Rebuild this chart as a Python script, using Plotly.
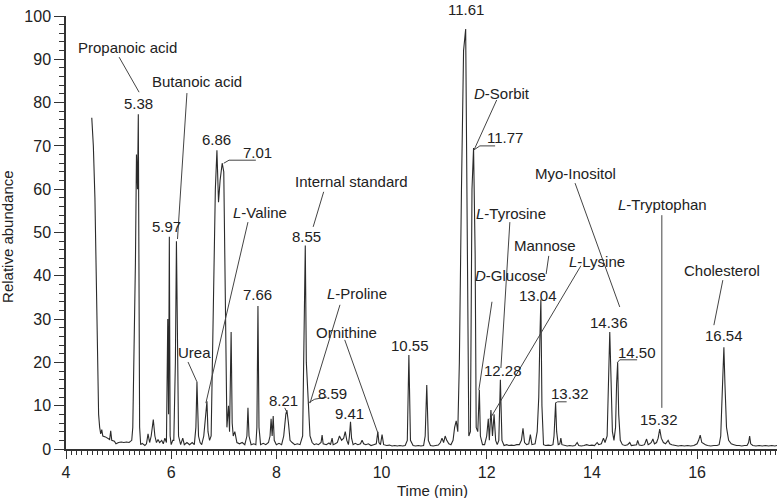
import plotly.graph_objects as go

# ---- chromatogram trace (time in min, relative abundance in %) ----
time_min = [
    4.49, 4.52, 4.55, 4.58, 4.60, 4.62, 4.64, 4.66, 4.68, 4.70, 4.75, 4.80, 4.83, 4.85, 4.87, 4.92, 4.95,
    5.00, 5.05, 5.10, 5.15, 5.20, 5.25, 5.27, 5.30, 5.32, 5.34, 5.36, 5.375, 5.39, 5.40, 5.42, 5.45, 5.50,
    5.53, 5.56, 5.59, 5.62, 5.66, 5.69, 5.72, 5.75, 5.78, 5.82, 5.85, 5.88, 5.91, 5.935, 5.95, 5.965, 5.98,
    6.00, 6.03, 6.05, 6.08, 6.10, 6.12, 6.14, 6.18, 6.22, 6.25, 6.30, 6.35, 6.40, 6.44, 6.47, 6.49, 6.50,
    6.52, 6.55, 6.58, 6.62, 6.65, 6.68, 6.70, 6.73, 6.76, 6.80, 6.84, 6.87, 6.90, 6.93, 6.97, 7.00, 7.03,
    7.06, 7.09, 7.11, 7.14, 7.16, 7.18, 7.21, 7.25, 7.30, 7.35, 7.40, 7.44, 7.46, 7.48, 7.52, 7.57, 7.61,
    7.63, 7.65, 7.67, 7.70, 7.75, 7.80, 7.85, 7.88, 7.90, 7.92, 7.94, 7.96, 8.00, 8.05, 8.10, 8.14, 8.18,
    8.20, 8.23, 8.26, 8.30, 8.35, 8.40, 8.45, 8.50, 8.53, 8.55, 8.57, 8.60, 8.62, 8.64, 8.68, 8.72, 8.76,
    8.80, 8.85, 8.87, 8.89, 8.95, 9.00, 9.03, 9.06, 9.08, 9.12, 9.16, 9.20, 9.24, 9.28, 9.31, 9.34, 9.37,
    9.39, 9.41, 9.43, 9.46, 9.50, 9.55, 9.60, 9.63, 9.66, 9.70, 9.75, 9.80, 9.85, 9.90, 9.93, 9.95, 9.98,
    10.01, 10.04, 10.10, 10.15, 10.20, 10.25, 10.30, 10.35, 10.40, 10.45, 10.49, 10.52, 10.55, 10.60,
    10.65, 10.70, 10.75, 10.80, 10.83, 10.86, 10.89, 10.93, 10.98, 11.03, 11.08, 11.12, 11.15, 11.18,
    11.21, 11.24, 11.28, 11.32, 11.36, 11.39, 11.42, 11.45, 11.48, 11.52, 11.56, 11.60, 11.63, 11.66,
    11.69, 11.72, 11.75, 11.78, 11.80, 11.83, 11.86, 11.88, 11.92, 11.96, 12.00, 12.03, 12.05, 12.08,
    12.11, 12.14, 12.17, 12.20, 12.23, 12.26, 12.29, 12.33, 12.38, 12.42, 12.47, 12.52, 12.57, 12.62,
    12.66, 12.69, 12.72, 12.76, 12.80, 12.83, 12.86, 12.92, 12.96, 12.99, 13.01, 13.03, 13.05, 13.08,
    13.12, 13.17, 13.22, 13.26, 13.28, 13.31, 13.33, 13.36, 13.39, 13.41, 13.43, 13.48, 13.53, 13.58,
    13.63, 13.68, 13.72, 13.75, 13.80, 13.85, 13.90, 13.95, 14.00, 14.05, 14.10, 14.13, 14.18, 14.22,
    14.25, 14.29, 14.32, 14.34, 14.36, 14.39, 14.42, 14.45, 14.47, 14.49, 14.51, 14.54, 14.58, 14.63,
    14.68, 14.72, 14.75, 14.80, 14.85, 14.87, 14.90, 14.95, 15.00, 15.04, 15.07, 15.10, 15.13, 15.16,
    15.19, 15.23, 15.26, 15.29, 15.32, 15.36, 15.40, 15.45, 15.48, 15.52, 15.58, 15.64, 15.70, 15.76,
    15.82, 15.88, 15.94, 16.00, 16.03, 16.06, 16.09, 16.12, 16.16, 16.20, 16.26, 16.32, 16.38, 16.42,
    16.45, 16.47, 16.49, 16.51, 16.53, 16.56, 16.60, 16.65, 16.70, 16.75, 16.80, 16.85, 16.90, 16.95,
    16.98, 17.00, 17.02, 17.06, 17.12, 17.18, 17.24, 17.30, 17.36, 17.42, 17.48, 17.52,
]
abundance = [
    76.5, 70, 58, 40, 20, 8, 5, 3.5, 4.5, 3, 2.8, 2.5, 2.2, 4.2, 2, 1.8, 1.2,
    1.5, 1.6, 1.5, 1.6, 1.5, 2, 5, 25, 43, 68, 60, 77.3, 40, 5, 1, 1.3, 0.8,
    1.2, 3.5, 1.5, 3, 6.8, 3, 1.5, 2.2, 1.5, 2, 1.2, 2.5, 1.5, 30, 8, 49, 3,
    1, 2, 2, 20, 48, 30, 3, 1, 2.5, 1, 1.5, 1, 1.5, 1, 5, 15.5, 10.6,
    3, 1.5, 1, 3, 8, 11, 4, 2, 3, 30, 60, 69, 57, 62, 66, 64, 30,
    5, 10, 4, 27, 6, 3, 4, 1.5, 1.2, 1.5, 1, 3, 9.5, 3, 1, 1.2, 1,
    5, 33, 5, 1, 1.3, 1, 1.5, 3, 7, 3, 7.6, 2, 1, 1.3, 1, 3, 8,
    9, 6, 2, 1.5, 1, 1.2, 1, 3, 25, 47, 20, 11, 6, 3, 1.5, 1, 1.2,
    1, 1.5, 3.2, 1.2, 1, 1.4, 1, 2.5, 1, 1.2, 1.5, 3, 2, 2.5, 4, 2, 1,
    3, 6.3, 2.5, 1, 1.3, 1, 1.2, 2, 1.2, 1, 1.2, 0.8, 1, 1.2, 4, 1.5, 1,
    3.3, 1, 0.8, 0.9, 0.7, 0.8, 0.7, 0.8, 0.7, 0.8, 2, 21.7, 2, 0.8,
    0.7, 0.8, 0.7, 0.8, 3, 14.8, 2, 0.8, 0.7, 0.8, 0.9, 1.5, 2.5, 1.5,
    3, 2, 1.2, 1, 2, 5, 6.5, 4, 20, 60, 92, 97, 50, 3,
    4, 60, 69.5, 45, 5, 4, 13.6, 3, 1, 1, 3, 7, 2, 9,
    3, 8, 2, 1, 2, 16, 2, 0.8, 1, 0.8, 0.9, 0.8, 1, 1,
    2, 4.8, 1.5, 1, 1.2, 3.3, 1, 1.2, 4, 12, 25, 34.5, 10, 1,
    0.8, 0.9, 0.8, 1, 3, 10.6, 4, 1, 1.2, 2.5, 1, 0.8, 0.7, 0.8,
    0.7, 0.8, 1.5, 0.8, 0.7, 0.8, 1, 0.8, 0.9, 0.8, 1.5, 1, 1.2, 2.5,
    1.5, 3, 15, 27, 18, 4, 2, 5, 15, 20, 8, 2, 1, 0.8,
    1, 1.5, 0.8, 0.9, 1, 2, 0.9, 0.8, 1, 2.3, 1, 1.2, 1.5, 2.3,
    1.2, 1.5, 2.5, 4.6, 2.5, 1.5, 1.2, 2, 1.2, 1, 0.8, 0.7, 0.8, 0.7,
    0.8, 0.7, 0.8, 1.2, 2, 3.2, 1.5, 1.2, 1, 0.8, 0.7, 0.8, 0.8, 1,
    3, 10, 20, 23.5, 15, 5, 2, 1.2, 1, 0.8, 0.8, 0.7, 0.8, 0.8,
    1.5, 3, 1.2, 0.8, 0.7, 0.8, 0.7, 0.8, 0.7, 0.8, 0.7, 0.8,
]

# ---- peak labels ----
label_text = [
    "Propanoic acid", "Butanoic acid", "5.38", "6.86", "7.01", "5.97", "<i>L</i>-Valine",
    "Internal standard", "8.55", "7.66", "Urea", "<i>L</i>-Proline", "Ornithine", "8.21", "8.59",
    "9.41", "10.55", "11.61", "<i>D</i>-Sorbit", "11.77", "<i>L</i>-Tyrosine", "Mannose",
    "<i>D</i>-Glucose", "<i>L</i>-Lysine", "13.04", "12.28", "13.32", "Myo-Inositol",
    "<i>L</i>-Tryptophan", "14.36", "14.50", "15.32", "Cholesterol", "16.54",
]
label_t = [
    5.17, 6.49, 5.37, 6.87, 7.65, 5.92, 7.69,
    9.42, 8.58, 7.65, 6.45, 9.53, 9.34, 8.13, 9.06,
    9.40, 10.54, 11.60, 12.29, 12.35, 12.46, 13.11,
    12.46, 14.10, 12.97, 12.31, 13.58, 13.68,
    15.35, 14.32, 14.86, 15.27, 16.47, 16.51,
]
label_v = [
    92.8, 84.8, 79.9, 71.4, 68.4, 51.5, 54.7,
    61.7, 49.0, 35.6, 22.2, 36.0, 27.0, 11.1, 12.9,
    8.3, 24.0, 101.6, 82.2, 72.0, 54.5, 46.9,
    40.0, 43.4, 35.5, 18.2, 12.9, 63.7,
    56.4, 29.3, 22.2, 6.9, 41.3, 26.1,
]

# ---- leader lines (polylines in data units: times, abundances) ----
leader_t = [
    [5.01, 5.39], [6.30, 6.12], [7.00, 7.10, 7.61], [7.46, 6.66], [6.32, 6.49],
    [8.90, 8.70], [9.21, 8.64], [9.30, 9.93], [8.60, 8.73, 8.96], [8.16, 8.20],
    [12.19, 11.76], [11.76, 11.87, 12.16], [12.44, 12.27], [12.10, 11.85], [13.18, 13.13],
    [13.79, 12.06], [13.30, 13.35, 13.52], [13.68, 14.53], [15.33, 15.33],
    [14.48, 14.53, 14.86], [16.49, 16.32],
]
leader_v = [
    [90.5, 82.4], [82.2, 48.5], [66.0, 66.7, 66.7], [52.4, 10.6], [20.1, 15.5],
    [59.4, 51.3], [33.3, 10.6], [25.2, 3.7], [10.6, 11.5, 12.0], [9.5, 8.5],
    [80.6, 69.1], [69.1, 70.0, 70.0], [52.4, 18.7], [34.0, 13.6], [44.6, 40.4],
    [42.3, 6.9], [10.6, 10.9, 10.9], [61.4, 32.8], [54.0, 9.5],
    [19.9, 20.6, 20.6], [39.0, 28.6],
]

FONT = "Liberation Sans, Arial, sans-serif"
TXT = "#222222"
Y_MAX = 100

fig = go.Figure()
fig.add_trace(go.Scatter(x=time_min, y=abundance, mode="lines",
                         line=dict(color="#2b2b2b", width=1.1), hoverinfo="skip",
                         showlegend=False))

for lt, lv in zip(leader_t, leader_v):
    fig.add_trace(go.Scatter(x=lt, y=lv, mode="lines", line=dict(color="#444444", width=1),
                             hoverinfo="skip", showlegend=False, cliponaxis=False))

annotations = []
for txt, t, v in zip(label_text, label_t, label_v):
    # labels above the axis range are placed relative to the plot height so they stay visible
    annotations.append(dict(x=t, y=v / Y_MAX, xref="x", yref="paper", text=txt, showarrow=False,
                            font=dict(family=FONT, size=15, color=TXT),
                            xanchor="center", yanchor="middle"))

annotations.append(dict(x=0.516, y=-0.0947, xref="paper", yref="paper", text="Time (min)",
                        showarrow=False, font=dict(family=FONT, size=15, color=TXT),
                        xanchor="center", yanchor="middle"))
annotations.append(dict(x=-0.0816, y=0.492, xref="paper", yref="paper", text="Relative abundance",
                        showarrow=False, textangle=-90, font=dict(family=FONT, size=15, color=TXT),
                        xanchor="center", yanchor="middle"))

fig.update_layout(
    width=777, height=498,
    margin=dict(l=66, r=0, t=16, b=49),
    paper_bgcolor="white", plot_bgcolor="white",
    showlegend=False,
    annotations=annotations,
    xaxis=dict(range=[4, 17.52], showgrid=False, zeroline=False, showline=True,
               linecolor="#333333", linewidth=1.5, ticks="outside", ticklen=8, tickwidth=1.2,
               tickcolor="#333333", tick0=4, dtick=2,
               minor=dict(ticks="outside", ticklen=4, dtick=0.1, tickcolor="#333333", tickwidth=1),
               tickfont=dict(family=FONT, size=16, color=TXT)),
    yaxis=dict(range=[0, Y_MAX], showgrid=False, zeroline=False, showline=True,
               linecolor="#333333", linewidth=1.5, ticks="outside", ticklen=10, tickwidth=1.2,
               tickcolor="#333333", tick0=0, dtick=10,
               minor=dict(ticks="outside", ticklen=5, dtick=2, tickcolor="#333333", tickwidth=1),
               tickfont=dict(family=FONT, size=16, color=TXT)),
)

fig.write_html("out.html", config={"displayModeBar": False},
               post_script="document.body.style.margin='0';")
